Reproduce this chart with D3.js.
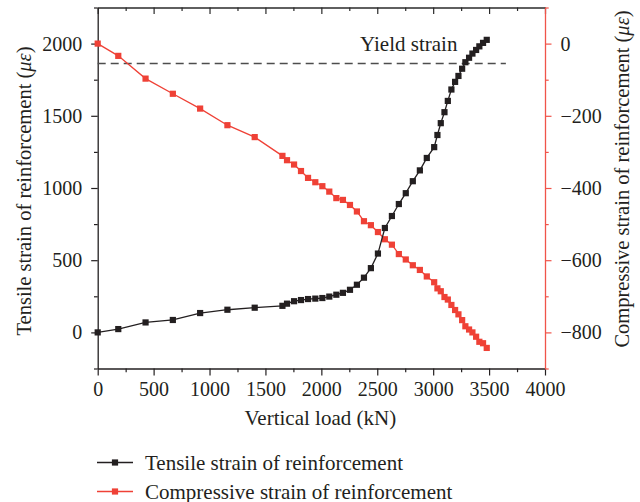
<!DOCTYPE html>
<html><head><meta charset="utf-8">
<script src="https://cdn.jsdelivr.net/npm/d3@7"></script>
<style>
body{margin:0;background:#fff}
svg{display:block}
text{font-family:"Liberation Serif","Times New Roman",serif;fill:#231f20}
</style>
</head><body>
<svg id="chart" width="640" height="502"></svg>
<script>
// ---- data ----
const loads = [0,184,428,672,916,1160,1404,1652,1693,1756,1818,1881,1946,2009,2071,2134,2193,2256,2318,2381,2443,2506,2568,2631,2693,2755,2818,2881,2943,3009,3038,3068,3101,3131,3163,3196,3226,3259,3288,3321,3351,3384,3413,3446,3479];
const tensile = [0,23,69,86,134,157,171,184,199,216,224,231,234,238,248,261,274,295,330,379,445,546,723,806,889,964,1047,1122,1208,1283,1367,1449,1525,1603,1682,1735,1776,1826,1871,1902,1931,1956,1981,2005,2026];
const compressive = [0,-34,-97,-139,-180,-226,-259,-311,-323,-335,-353,-372,-384,-395,-410,-428,-433,-447,-465,-492,-503,-522,-542,-557,-583,-598,-614,-627,-645,-661,-678,-686,-702,-709,-724,-738,-750,-766,-783,-792,-800,-812,-826,-830,-843];
const xTicks = [0,500,1000,1500,2000,2500,3000,3500,4000];
const xMinorTicks = [250,750,1250,1750,2250,2750,3250,3750];
const leftTicks = [0,500,1000,1500,2000];
const leftMinorTicks = [-250,250,750,1250,1750,2250];
const rightTicks = [0,-200,-400,-600,-800];
const rightMinorTicks = [100,-100,-300,-500,-700,-900];
const yieldStrain = 1862;
const yieldLine = [0,3650];
const seriesNames = ["Tensile strain of reinforcement","Compressive strain of reinforcement"];
const xTitle = "Vertical load (kN)";
const leftTitle = "Tensile strain of reinforcement ";
const rightTitle = "Compressive strain of reinforcement ";
const yieldLabel = "Yield strain";

const BLACK = "#231f20", RED = "#ef4136", RED_AXIS = "#f0544a";

const svg = d3.select("#chart");
const L = 97.7, R = 545, T = 7.5, B = 368.5;

const x = d3.scaleLinear().domain([0,4000]).range([L,R]);
const yL = d3.scaleLinear().domain([-250,2250]).range([B,T]);
const yR = d3.scaleLinear().domain([-900,100]).range([B,T]);

const fmt = d => (d < 0 ? "\u2212" + Math.abs(d) : String(d));
const TICK_FS = 20;

function styleAxis(g, color, size) {
  g.selectAll("path").attr("stroke", color).attr("stroke-width", 1.3);
  g.selectAll("line").attr("stroke", color).attr("stroke-width", 1.2);
  g.selectAll("text").style("font-size", size + "px").attr("fill", BLACK)
    .style("font-family", '"Liberation Serif","Times New Roman",serif');
}

// top axis (mirror, inward ticks)
const gt = svg.append("g").attr("transform", `translate(0,${T})`)
  .call(d3.axisTop(x).tickValues(xTicks).tickSize(-6.5).tickSizeOuter(0).tickFormat(""));
styleAxis(gt, "#2a2a2a", TICK_FS);
const gtm = svg.append("g").attr("transform", `translate(0,${T})`)
  .call(d3.axisTop(x).tickValues(xMinorTicks).tickSize(-3.5).tickSizeOuter(0).tickFormat(""));
styleAxis(gtm, "#2a2a2a", TICK_FS); gtm.select("path").remove();

// bottom axis
const gb = svg.append("g").attr("transform", `translate(0,${B})`)
  .call(d3.axisBottom(x).tickValues(xTicks).tickSize(7).tickSizeOuter(0).tickPadding(6).tickFormat(fmt));
styleAxis(gb, BLACK, TICK_FS);
const gbm = svg.append("g").attr("transform", `translate(0,${B})`)
  .call(d3.axisBottom(x).tickValues(xMinorTicks).tickSize(3.7).tickSizeOuter(0).tickFormat(""));
styleAxis(gbm, BLACK, TICK_FS); gbm.select("path").remove();

// left axis
const gl = svg.append("g").attr("transform", `translate(${L},0)`)
  .call(d3.axisLeft(yL).tickValues(leftTicks).tickSize(6.5).tickSizeOuter(0).tickPadding(9).tickFormat(fmt));
styleAxis(gl, BLACK, TICK_FS);
const glm = svg.append("g").attr("transform", `translate(${L},0)`)
  .call(d3.axisLeft(yL).tickValues(leftMinorTicks).tickSize(3.7).tickSizeOuter(0).tickFormat(""));
styleAxis(glm, BLACK, TICK_FS); glm.select("path").remove();

// right axis (red)
const gr = svg.append("g").attr("transform", `translate(${R},0)`)
  .call(d3.axisRight(yR).tickValues(rightTicks).tickSize(6.5).tickSizeOuter(0).tickPadding(9).tickFormat(fmt));
styleAxis(gr, RED_AXIS, TICK_FS);
const grm = svg.append("g").attr("transform", `translate(${R},0)`)
  .call(d3.axisRight(yR).tickValues(rightMinorTicks).tickSize(3.7).tickSizeOuter(0).tickFormat(""));
styleAxis(grm, RED_AXIS, TICK_FS); grm.select("path").remove();

// yield line
svg.append("line")
  .attr("x1", x(yieldLine[0])).attr("x2", x(yieldLine[1]))
  .attr("y1", yL(yieldStrain)).attr("y2", yL(yieldStrain))
  .attr("stroke", "#4d4d4d").attr("stroke-width", 1.4).attr("stroke-dasharray", "8,5");
svg.append("text").attr("x", 360).attr("y", 51).style("font-size", "21px").text(yieldLabel);

// series
const black = loads.map((l,i) => [l, tensile[i]]);
const red = loads.map((l,i) => [l, compressive[i]]);
const lineL = d3.line().x(d => x(d[0])).y(d => yL(d[1]));
const lineR = d3.line().x(d => x(d[0])).y(d => yR(d[1]));
const MS = 6.2;

svg.append("path").datum(red).attr("d", lineR).attr("fill","none").attr("stroke", RED).attr("stroke-width", 1.3);
svg.append("g").selectAll("rect").data(red).join("rect")
  .attr("x", d => x(d[0]) - MS/2).attr("y", d => yR(d[1]) - MS/2)
  .attr("width", MS).attr("height", MS).attr("fill", RED);

svg.append("path").datum(black).attr("d", lineL).attr("fill","none").attr("stroke", BLACK).attr("stroke-width", 1.3);
svg.append("g").selectAll("rect").data(black).join("rect")
  .attr("x", d => x(d[0]) - MS/2).attr("y", d => yL(d[1]) - MS/2)
  .attr("width", MS).attr("height", MS).attr("fill", BLACK);

// axis titles
svg.append("text").attr("x", (L+R)/2 - 1).attr("y", 425).attr("text-anchor","middle")
  .style("font-size","21px").text(xTitle);

function yTitle(cx, cy, txt) {
  const t = svg.append("text").attr("transform", `translate(${cx},${cy}) rotate(-90)`)
    .attr("text-anchor","middle").style("font-size","20.5px");
  t.append("tspan").text(txt + "(");
  t.append("tspan").style("font-style","italic").text("\u03bc\u03b5");
  t.append("tspan").text(")");
}
yTitle(31, 191, leftTitle);
yTitle(629, 179, rightTitle);

// legend
const legend = svg.append("g");
[[BLACK, 462.5], [RED, 491.5]].forEach(([c, yy], i) => {
  legend.append("line").attr("x1", 97).attr("x2", 133).attr("y1", yy).attr("y2", yy)
    .attr("stroke", c).attr("stroke-width", 1.3);
  legend.append("rect").attr("x", 115 - MS/2).attr("y", yy - MS/2).attr("width", MS).attr("height", MS).attr("fill", c);
  legend.append("text").attr("x", 145).attr("y", yy + 7).style("font-size","21px").text(seriesNames[i]);
});
</script>
</body></html>
